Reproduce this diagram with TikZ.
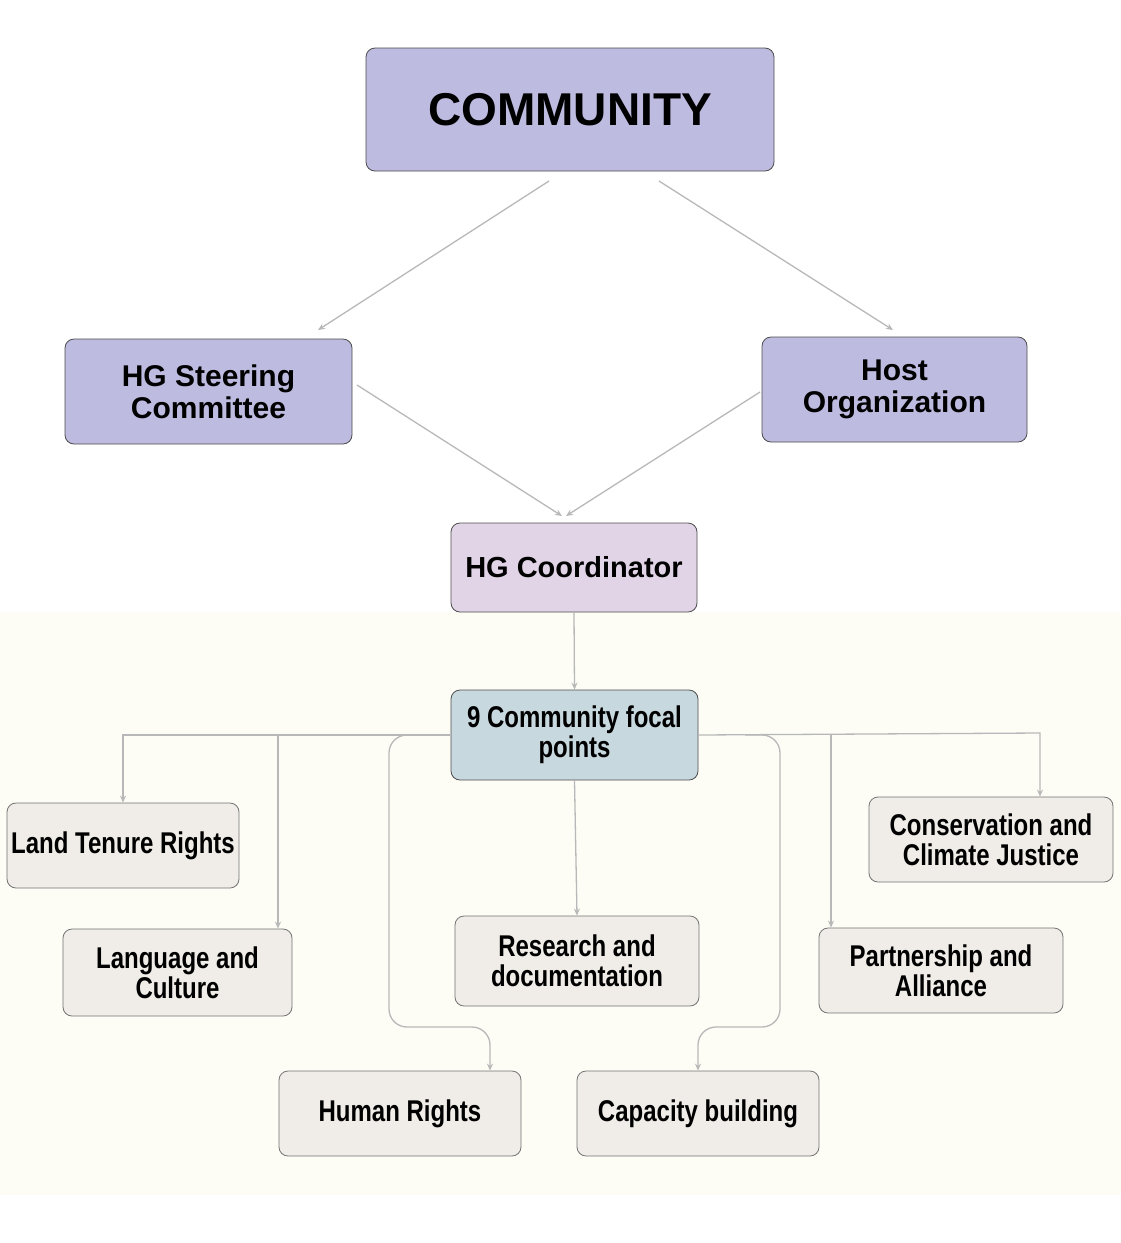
\documentclass[tikz,border=0pt]{standalone}
\usepackage{fontspec}
\setmainfont{Liberation Sans}
\newfontfamily\nar[FakeStretch=0.8]{Liberation Sans}
\usetikzlibrary{arrows.meta}
\definecolor{lav}{HTML}{BDBBE0}
\definecolor{coord}{HTML}{E1D4E6}
\definecolor{focal}{HTML}{C8D8DF}
\definecolor{leaf}{HTML}{F0EDE8}
\definecolor{bg}{HTML}{FDFDF6}
\definecolor{ln}{HTML}{B8B8B8}
\begin{document}
\begin{tikzpicture}[x=1pt,y=-1pt,
 box/.style={draw=black!70,line width=0.8pt,rounded corners=9pt,align=center,inner sep=0pt,font=\bfseries},
 top/.style={box,fill=lav,font=\fontsize{30}{32}\selectfont\bfseries},
 leafn/.style={box,fill=leaf,draw=black!55,font=\nar\fontsize{30}{30}\selectfont\bfseries},
 con/.style={draw=ln,line width=1.3pt,-{Stealth[length=7pt,width=6pt]}}]
\useasboundingbox (0,0) rectangle (1121,1243);
\fill[bg] (0,612) rectangle (1121,1195);
\node[top,minimum width=408pt,minimum height=123pt,font=\fontsize{46}{48}\selectfont\bfseries] (com) at (570,109.5) {COMMUNITY};
\node[top,minimum width=287pt,minimum height=105pt] (hgs) at (208.5,391.5) {HG Steering\\Committee};
\node[top,minimum width=265pt,minimum height=105pt] (host) at (894.5,389.5) {Host\\Organization};
\node[box,fill=coord,minimum width=246pt,minimum height=89pt,font=\fontsize{29}{31}\selectfont\bfseries] (coo) at (574,567.5) {HG Coordinator};
\node[box,fill=focal,minimum width=247pt,minimum height=90pt,font=\nar\fontsize{30}{30}\selectfont\bfseries] (foc) at (574.5,735) {9 Community focal\\points};
\node[leafn,minimum width=232pt,minimum height=85pt] (land) at (123,845.5) {Land Tenure Rights};
\node[leafn,minimum width=229pt,minimum height=87pt] (lang) at (177.5,972.5) {Language and\\Culture};
\node[leafn,minimum width=244pt,minimum height=90pt] (res) at (577,961) {Research and\\documentation};
\node[leafn,minimum width=242pt,minimum height=85pt] (hum) at (400,1113.5) {Human Rights};
\node[leafn,minimum width=242pt,minimum height=85pt] (cap) at (698,1113.5) {Capacity building};
\node[leafn,minimum width=244pt,minimum height=85pt] (cons) at (991,839.5) {Conservation and\\Climate Justice};
\node[leafn,minimum width=244pt,minimum height=85pt] (part) at (941,970.5) {Partnership and\\Alliance};
\coordinate (c1) at (549,181); \coordinate (c1e) at (318,330);
\coordinate (c2) at (659,181); \coordinate (c2e) at (893,330);
\coordinate (s1) at (357,385); \coordinate (s1e) at (562,516);
\coordinate (h1) at (760,392); \coordinate (h1e) at (566,516);
\draw[con] (c1) -- (c1e);
\draw[con] (c2) -- (c2e);
\draw[con] (s1) -- (s1e);
\draw[con] (h1) -- (h1e);
\draw[con] (coo.south) -- (foc.north);
\draw[con] (foc.south) -- (res.north);
\draw[con] (foc.west) ++(0,0) -- (123,735) -- (land.north);
\draw[con] (278,735) -- (lang.north -| 278,0);
\draw[con,rounded corners=18pt] (410,735) -- (389,735) -- (389,1027) -- (490,1027) -- (hum.north -| 490,0);
\draw[con] (foc.east) -- (1040,733) -- (cons.north -| 1040,0);
\draw[con] (831,734) -- (part.north -| 831,0);
\draw[con,rounded corners=18pt] (745,735) -- (780,735) -- (780,1027) -- (698,1027) -- (cap.north);
\end{tikzpicture}
\end{document}
